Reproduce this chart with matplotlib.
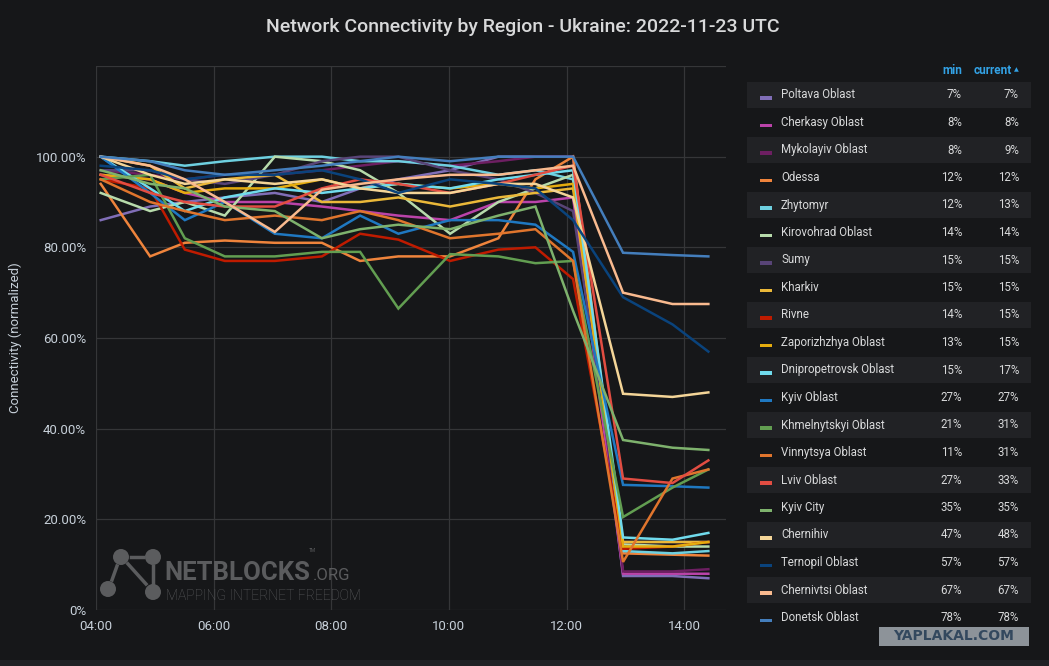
import matplotlib
matplotlib.use("Agg")
import matplotlib.pyplot as plt
from matplotlib.patches import Rectangle, Circle
from matplotlib.lines import Line2D

plt.rcParams['font.family'] = ['Roboto', 'DejaVu Sans']

# sample times (hours, UTC)
hours = [4.08, 4.92, 5.51, 6.19, 7.04, 7.84, 8.49, 9.14, 10.02, 10.84, 11.47, 12.11, 12.96, 13.80, 14.41]

# regions, in legend order (sorted by current)
regions = ["Poltava Oblast", "Cherkasy Oblast", "Mykolayiv Oblast", "Odessa", "Zhytomyr",
           "Kirovohrad Oblast", "Sumy", "Kharkiv", "Rivne", "Zaporizhzhya Oblast",
           "Dnipropetrovsk Oblast", "Kyiv Oblast", "Khmelnytskyi Oblast", "Vinnytsya Oblast",
           "Lviv Oblast", "Kyiv City", "Chernihiv", "Ternopil Oblast", "Chernivtsi Oblast",
           "Donetsk Oblast"]
colors = ["#806EB7", "#BA43A9", "#6D1F62", "#EF843C", "#6ED0E0",
          "#B7DBAB", "#584477", "#EAB839", "#BF1B00", "#E5AC0E",
          "#70DBED", "#1F78C1", "#629E51", "#E0752D",
          "#E24D42", "#7EB26D", "#F4D598", "#0A437C", "#F9BA8F",
          "#447EBC"]
min_vals = [7, 8, 8, 12, 12, 14, 15, 15, 14, 13, 15, 27, 21, 11, 27, 35, 47, 57, 67, 78]
cur_vals = [7, 8, 9, 12, 13, 14, 15, 15, 15, 15, 17, 27, 31, 31, 33, 35, 48, 57, 67, 78]

# connectivity (% of normal) per region
poltava = [86, 89, 90, 91, 92, 90, 93, 95, 97, 100, 100, 100, 7.5, 7.5, 7]
cherkasy = [96, 95, 92, 90, 90, 89, 88, 87, 86, 90, 90, 91, 8, 8, 8]
mykolayiv = [97, 96, 95, 96, 96, 97, 98, 99, 98, 99, 100, 100, 8.5, 8.5, 9]
odessa = [94, 78, 81, 81.5, 81, 81, 77, 78, 78, 82, 95, 100, 12.5, 12.2, 12]
zhytomyr = [100, 99, 98, 99, 100, 100, 99, 99, 98, 96, 97, 95, 13, 12.5, 13]
kirovohrad = [92, 88, 90, 87, 100, 99, 97, 92, 83, 90, 93, 96, 14.5, 14, 14]
sumy = [97, 97, 95, 94, 96, 99, 100, 100, 97, 95, 92, 88, 15, 15, 15]
kharkiv = [100, 98, 93, 95, 96, 90, 90, 91, 89, 91, 92, 93, 15, 15, 15]
rivne = [95, 93, 79.5, 77, 77, 78, 83, 81.7, 77, 79.5, 80, 73, 13.5, 14, 15]
zaporizhzhya = [96, 95, 92, 93, 93, 95, 93, 94, 93, 94, 93, 94, 14, 14, 15]
dnipropetrovsk = [100, 93, 88, 91, 93, 92, 93, 94, 93, 95, 96, 97, 16, 15.5, 17]
kyiv_oblast = [100, 92, 86, 90, 83, 82, 87, 83, 86, 86, 85, 79, 27.6, 27.3, 27]
khmelnytskyi = [95, 96, 82, 78, 78, 79, 79, 66.5, 78.5, 78, 76.5, 77, 20.5, 27, 31]
vinnytsya = [95, 90, 88, 86, 87, 86, 88, 86, 82, 83, 84, 77, 10.6, 29, 31]
lviv = [96, 92, 90, 89, 89, 93, 95, 94, 92, 94, 96, 98, 29, 28, 33]
kyiv_city = [97, 94, 93, 89, 88, 82, 84, 85, 84, 87, 89, 66, 37.5, 35.8, 35.3]
chernihiv = [100, 96, 94, 95, 94, 95, 93, 92, 92, 94, 94, 91, 47.7, 47, 48]
ternopil = [98, 97, 95, 96, 96, 97, 95, 92, 95, 94, 93, 86, 69, 63, 57]
chernivtsi = [100, 98, 95, 90, 83.4, 92.7, 94, 95, 96, 96, 97, 98, 70, 67.5, 67.5]
donetsk = [100, 99, 97, 96, 97, 98, 99, 100, 99, 100, 100, 100, 78.8, 78.3, 78]

series = [poltava, cherkasy, mykolayiv, odessa, zhytomyr, kirovohrad, sumy, kharkiv,
          rivne, zaporizhzhya, dnipropetrovsk, kyiv_oblast, khmelnytskyi, vinnytsya,
          lviv, kyiv_city, chernihiv, ternopil, chernivtsi, donetsk]

BG = "#161719"
W, H = 1049, 666
fig = plt.figure(figsize=(W / 100, H / 100), dpi=100, facecolor=BG)

ax = fig.add_axes([96 / W, 1 - 610 / H, (726 - 96) / W, (610 - 66) / H])
ax.set_facecolor(BG)
for vals, c in zip(series, colors):
    ax.plot(hours, vals, color=c, lw=1.8, solid_joinstyle='miter')

ax.set_xlim(4.0, 14.71)
ax.set_ylim(0, 120)
ax.set_xticks([4, 6, 8, 10, 12, 14])
ax.set_xticklabels(["04:00", "06:00", "08:00", "10:00", "12:00", "14:00"])
ax.set_yticks([0, 20, 40, 60, 80, 100, 120])
ax.set_yticklabels(["0%", "20.00%", "40.00%", "60.00%", "80.00%", "100.00%", ""])
ax.grid(True, color="#353638", lw=0.9)
ax.tick_params(colors="#c7d0d9", labelsize=9.5, length=0, pad=7)
for s in ax.spines.values():
    s.set_visible(False)
ax.set_ylabel("Connectivity (normalized)", color="#c7d0d9", fontsize=9.5, labelpad=10)

fig.text(523 / W, 1 - 27 / H, "Network Connectivity by Region - Ukraine: 2022-11-23 UTC",
         ha="center", va="center", color="#d8d9da", fontsize=14, fontweight="medium")

# overlay in pixel coordinates for legend table and watermarks
ov = fig.add_axes([0, 0, 1, 1], zorder=5)
ov.set_xlim(0, W)
ov.set_ylim(H, 0)
ov.axis("off")
ov.patch.set_visible(False)

row_h = 27.5
y0 = 95
ov.text(952, 71, "min", color="#33a2e5", fontsize=8.5, fontweight="bold", ha="center", va="center")
ov.text(993, 71, "current", color="#33a2e5", fontsize=8.5, fontweight="bold", ha="center", va="center")
ov.text(1016, 70, "▲", color="#33a2e5", fontsize=4.5, ha="center", va="center", family="DejaVu Sans")
for i, (name, c, mn, cu) in enumerate(zip(regions, colors, min_vals, cur_vals)):
    yc = y0 + i * row_h
    if i % 2 == 0:
        ov.add_patch(Rectangle((747, yc - row_h / 2 + 1), 284, row_h - 2, color="#212225", lw=0))
    ov.add_patch(Rectangle((760, yc + 1), 12, 3.5, color=c, lw=0))
    ov.text(781, yc, name, color="#d8d9da", fontsize=8.3, va="center", ha="left")
    ov.text(962, yc, "%d%%" % mn, color="#d8d9da", fontsize=8.3, va="center", ha="right")
    ov.text(1019, yc, "%d%%" % cu, color="#d8d9da", fontsize=8.3, va="center", ha="right")

# NetBlocks watermark
wm = "#5b5c5e"
for (cx, cy, r) in [(121, 557, 8), (153, 557, 8), (108, 589, 8), (153, 592, 8)]:
    ov.add_patch(Circle((cx, cy), r, color=wm, lw=0))
ov.add_line(Line2D([131, 143], [557, 557], color=wm, lw=2.5))
ov.add_line(Line2D([117, 112], [566, 580], color=wm, lw=2.5))
ov.add_line(Line2D([128, 146], [564, 584], color=wm, lw=2.5))
ov.add_line(Line2D([153, 153], [566, 583], color=wm, lw=2.5))
ov.text(164, 580, "NETBLOCKS", color=wm, fontsize=18.5, fontweight="bold", ha="left", va="baseline")
ov.text(309, 552, "TM", color=wm, fontsize=3.5, ha="left", va="baseline")
ov.text(313, 580, ".ORG", color=wm, fontsize=12, ha="left", va="baseline")
ov.text(166, 600, "MAPPING INTERNET FREEDOM", color=wm, fontsize=10, fontweight="light",
        ha="left", va="baseline")

# bottom strip and site stamp
ov.add_patch(Rectangle((0, 660), W, 6, color="#202125", lw=0))
ov.add_patch(Rectangle((879, 627), 150, 19, color="#8d9399", lw=0))
ov.text(954, 636.5, "YAPLAKAL.COM", color="#33485e", fontsize=10, fontweight="bold",
        ha="center", va="center", family="DejaVu Sans")

fig.savefig("out.png", dpi=100, facecolor=BG)
